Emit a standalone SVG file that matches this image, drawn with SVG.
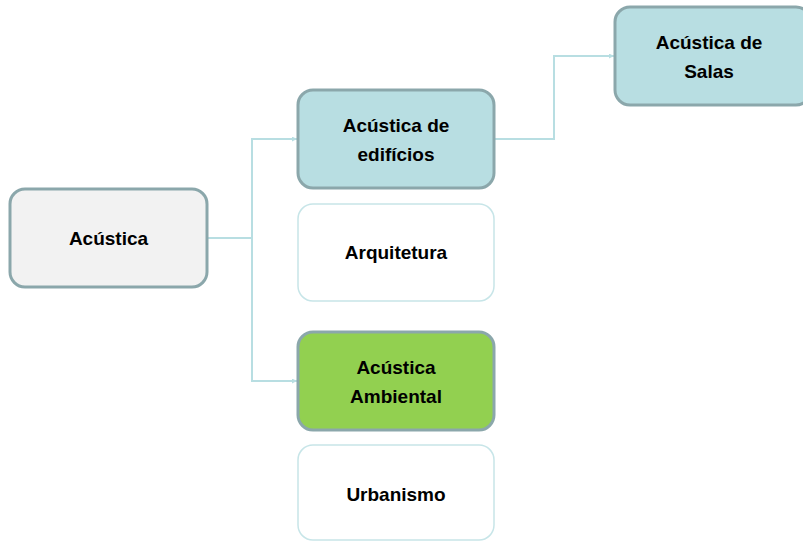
<svg xmlns="http://www.w3.org/2000/svg" width="803" height="541" viewBox="0 0 803 541">
<style>
.box{stroke:#8BA7AB;stroke-width:3}
.teal{fill:#B8DEE2}
.grey{fill:#F2F2F2}
.green{fill:#92D050}
.plain{fill:#FFFFFF;stroke:#C7E5E8;stroke-width:1.5}
.conn{fill:none;stroke:#B8DEE2;stroke-width:2}
text{font-family:"Liberation Sans",Arial,sans-serif;font-weight:bold;font-size:19px;fill:#000;text-anchor:middle}
</style>
<defs>
<marker id="arr" viewBox="0 0 10 10" refX="10" refY="5" markerWidth="5" markerHeight="5" orient="auto" markerUnits="userSpaceOnUse">
<path d="M0,0 L10,5 L0,10 z" fill="#B8DEE2"/>
</marker>
</defs>
<g id="connectors">
<path class="conn" d="M207,238 H252 V139 H297" marker-end="url(#arr)"/>
<path class="conn" d="M252,238 V381 H297" marker-end="url(#arr)"/>
<path class="conn" d="M494,139 H554 V56 H614" marker-end="url(#arr)"/>
</g>
<g id="acustica">
<rect class="box grey" x="10" y="189" width="197" height="98" rx="15"/>
<text x="108.5" y="245">Acústica</text>
</g>
<g id="edificios">
<rect class="box teal" x="298" y="90" width="196" height="98" rx="15"/>
<text x="396" y="132">Acústica de</text>
<text x="396" y="161">edifícios</text>
</g>
<g id="arquitetura">
<rect class="plain" x="298" y="204" width="196" height="97" rx="15"/>
<text x="396" y="259">Arquitetura</text>
</g>
<g id="ambiental">
<rect class="box green" x="298" y="332" width="196" height="98" rx="15"/>
<text x="396" y="374">Acústica</text>
<text x="396" y="403">Ambiental</text>
</g>
<g id="urbanismo">
<rect class="plain" x="298" y="445" width="196" height="95" rx="15"/>
<text x="396" y="501">Urbanismo</text>
</g>
<g id="salas">
<rect class="box teal" x="615" y="7" width="196" height="98" rx="15"/>
<text x="709" y="49">Acústica de</text>
<text x="709" y="78">Salas</text>
</g>
</svg>
